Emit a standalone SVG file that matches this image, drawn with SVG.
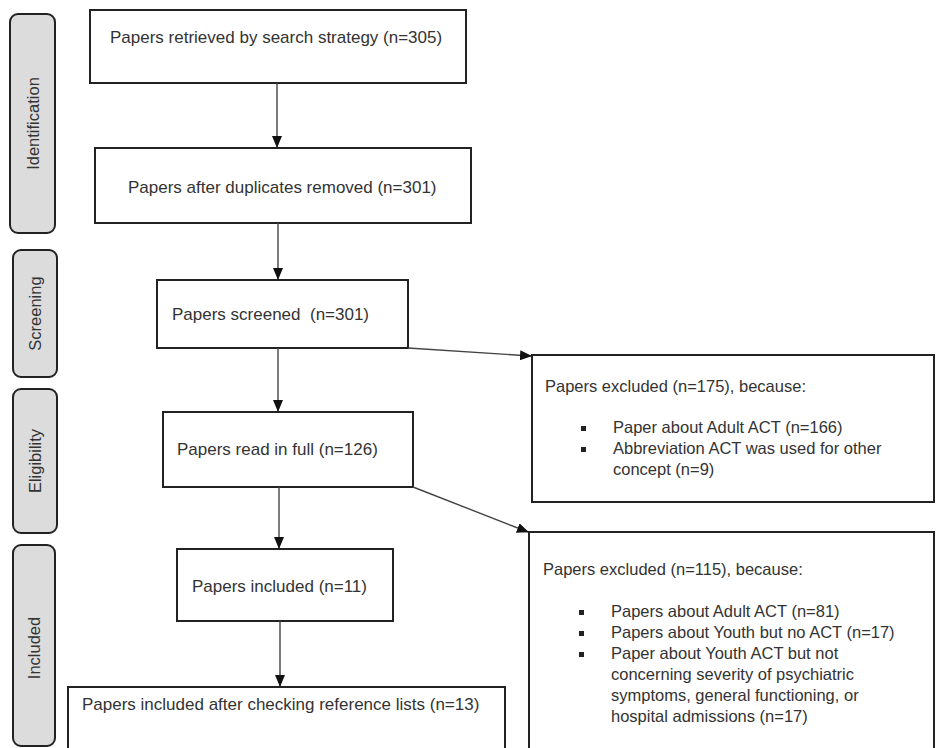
<svg xmlns="http://www.w3.org/2000/svg" width="936" height="748" viewBox="0 0 936 748">
<defs>
<marker id="ah" markerWidth="12" markerHeight="10" refX="11" refY="5" orient="auto" markerUnits="userSpaceOnUse"><path d="M0,0 L12,5 L0,10 Z" fill="#111"/></marker>
<style>
.phase{fill:#dcdcdc;stroke:#222;stroke-width:2}
.box{fill:#fff;stroke:#222;stroke-width:2}
.t{font-family:"Liberation Sans",Arial,sans-serif;font-size:17px;fill:#333}
.e{font-family:"Liberation Sans",Arial,sans-serif;font-size:16.5px;fill:#333}
.pl{font-family:"Liberation Sans",Arial,sans-serif;font-size:16.5px;fill:#333;text-anchor:middle}
.c{stroke:#444;stroke-width:1.4;fill:none;marker-end:url(#ah)}
.b{fill:#222}
</style>
</defs>
<rect width="936" height="748" fill="#fff"/>
<g id="phase-identification"><rect class="phase" x="10" y="14" width="45" height="219" rx="8"/><text class="pl" transform="translate(33,123.5) rotate(-90)" dy="0.35em">Identification</text></g>
<g id="phase-screening"><rect class="phase" x="13" y="250" width="44" height="127" rx="8"/><text class="pl" transform="translate(35,313.5) rotate(-90)" dy="0.35em">Screening</text></g>
<g id="phase-eligibility"><rect class="phase" x="13" y="389" width="44" height="144" rx="8"/><text class="pl" transform="translate(35,461) rotate(-90)" dy="0.35em">Eligibility</text></g>
<g id="phase-included"><rect class="phase" x="13" y="545" width="42" height="201" rx="8"/><text class="pl" transform="translate(34,648) rotate(-90)" dy="0.35em">Included</text></g>

<g id="retrieved"><rect class="box" x="90" y="10" width="376" height="73"/><text class="t" x="110" y="43">Papers retrieved by search strategy (n=305)</text></g>
<g id="duplicates"><rect class="box" x="95" y="148" width="376" height="75"/><text class="t" x="128" y="193">Papers after duplicates removed (n=301)</text></g>
<g id="screened"><rect class="box" x="157" y="280" width="251" height="68"/><text class="t" x="172" y="320" xml:space="preserve">Papers screened  (n=301)</text></g>
<g id="fulltext"><rect class="box" x="163" y="412" width="250" height="75"/><text class="t" x="177" y="455">Papers read in full (n=126)</text></g>
<g id="included"><rect class="box" x="177" y="549" width="216" height="72"/><text class="t" x="192" y="592">Papers included (n=11)</text></g>
<g id="included-final"><rect class="box" x="68" y="687" width="437" height="70"/><text class="t" x="82" y="710">Papers included after checking reference lists (n=13)</text></g>

<g id="excluded-1"><rect class="box" x="532" y="355" width="402" height="147"/>
<text class="e" x="545" y="392">Papers excluded (n=175), because:</text>
<rect class="b" x="581" y="426" width="5" height="5"/><text class="e" x="613" y="433">Paper about Adult ACT (n=166)</text>
<rect class="b" x="581" y="447" width="5" height="5"/><text class="e" x="613" y="454">Abbreviation ACT was used for other</text>
<text class="e" x="613" y="475">concept (n=9)</text>
</g>
<g id="excluded-2"><rect class="box" x="529" y="532" width="405" height="225"/>
<text class="e" x="543" y="575">Papers excluded (n=115), because:</text>
<rect class="b" x="579" y="610" width="5" height="5"/><text class="e" x="611" y="617">Papers about Adult ACT (n=81)</text>
<rect class="b" x="579" y="631" width="5" height="5"/><text class="e" x="611" y="638">Papers about Youth but no ACT (n=17)</text>
<rect class="b" x="579" y="652" width="5" height="5"/><text class="e" x="611" y="659">Paper about Youth ACT but not</text>
<text class="e" x="611" y="680">concerning severity of psychiatric</text>
<text class="e" x="611" y="701">symptoms, general functioning, or</text>
<text class="e" x="611" y="722">hospital admissions (n=17)</text>
</g>

<g id="connectors">
<line class="c" x1="277" y1="83" x2="277" y2="147"/>
<line class="c" x1="278" y1="223" x2="278" y2="279"/>
<line class="c" x1="278" y1="348" x2="278" y2="411"/>
<line class="c" x1="279" y1="487" x2="279" y2="548"/>
<line class="c" x1="280" y1="621" x2="280" y2="686"/>
<line class="c" x1="408" y1="348" x2="531" y2="356"/>
<line class="c" x1="413" y1="487" x2="528" y2="532"/>
</g>
</svg>
